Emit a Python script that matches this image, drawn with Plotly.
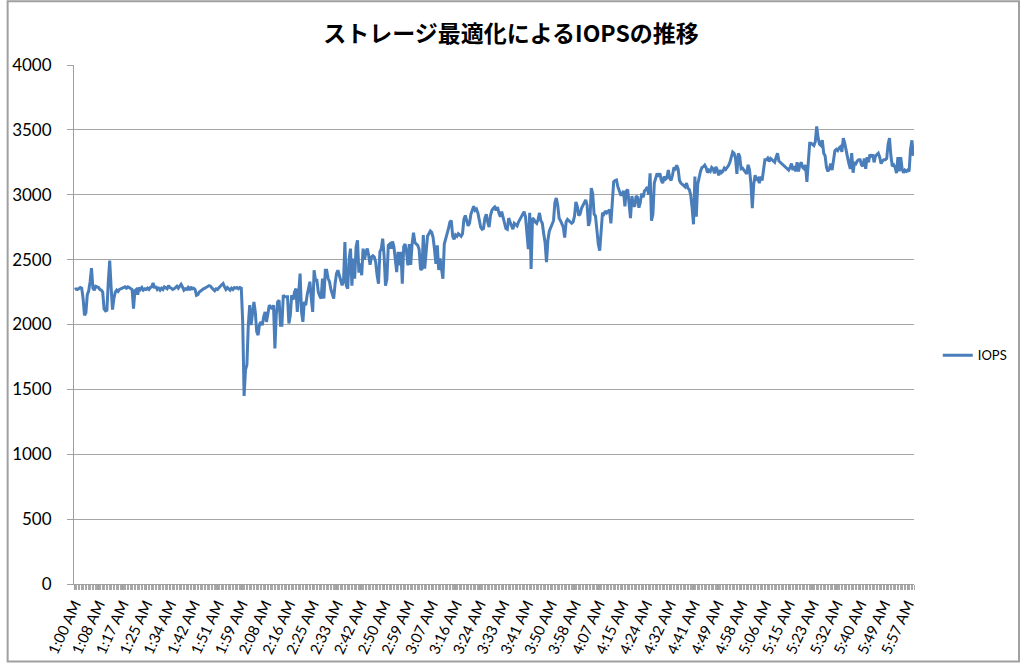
import plotly.graph_objects as go

# IOPS samples every 30 seconds, one list per hour (1:00 AM .. 5:59:30 AM)
iops_1am = [
    2270, 2275, 2270, 2280, 2285, 2280, 2200, 2071, 2090, 2230,
    2260, 2330, 2434, 2280, 2265, 2295, 2290, 2285, 2270, 2265,
    2250, 2120, 2105, 2110, 2330, 2492, 2290, 2115, 2200, 2250,
    2265, 2255, 2270, 2275, 2280, 2285, 2290, 2280, 2290, 2285,
    2280, 2270, 2122, 2260, 2270, 2230, 2285, 2270, 2285, 2265,
    2275, 2270, 2280, 2270, 2285, 2290, 2320, 2280, 2295, 2270,
    2280, 2265, 2280, 2270, 2290, 2285, 2275, 2300, 2285, 2280,
    2270, 2275, 2285, 2295, 2280, 2300, 2310, 2290, 2265, 2275,
    2270, 2285, 2265, 2290, 2275, 2280, 2270, 2225, 2230, 2250,
    2260, 2265, 2275, 2280, 2285, 2290, 2300, 2295, 2280, 2270,
    2260, 2275, 2270, 2285, 2295, 2305, 2315, 2290, 2270, 2285,
    2275, 2265, 2280, 2270, 2285, 2280, 2285, 2275, 2285, 2280,
]
iops_2am = [
    2020, 1450, 1650, 1690, 1995, 2149, 1995, 2097, 2174, 2097,
    1944, 1918, 2000, 2020, 1995, 2060, 2097, 2020, 2100, 2149,
    2136, 2120, 2149, 1815, 2080, 2174, 2187, 1995, 1995, 2226,
    2213, 2213, 2213, 2008, 2070, 2226, 2190, 2250, 2277, 2097,
    2226, 2392, 2100, 2020, 2174, 2149, 2226, 2277, 2330, 2200,
    2097, 2418, 2340, 2341, 2251, 2220, 2200, 2354, 2200, 2418,
    2418, 2354, 2330, 2270, 2240, 2200, 2315, 2392, 2418, 2380,
    2330, 2302, 2330, 2636, 2300, 2277, 2500, 2585, 2300, 2508,
    2354, 2600, 2649, 2400, 2470, 2380, 2585, 2500, 2560, 2585,
    2530, 2460, 2520, 2530, 2520, 2480, 2380, 2315, 2560, 2585,
    2662, 2530, 2300, 2350, 2610, 2620, 2585, 2640, 2600, 2470,
    2404, 2560, 2455, 2560, 2315, 2600, 2620, 2560, 2455, 2620,
]
iops_3am = [
    2460, 2620, 2708, 2632, 2620, 2610, 2580, 2430, 2420, 2690,
    2430, 2565, 2680, 2700, 2721, 2710, 2670, 2580, 2467, 2610,
    2420, 2510, 2420, 2353, 2620, 2657, 2695, 2740, 2790, 2800,
    2680, 2657, 2690, 2680, 2700, 2690, 2680, 2700, 2810, 2840,
    2800, 2760, 2780, 2850, 2880, 2911, 2880, 2890, 2860, 2800,
    2750, 2734, 2740, 2820, 2850, 2790, 2750, 2840, 2880, 2895,
    2905, 2880, 2905, 2860, 2830, 2870, 2830, 2790, 2740, 2734,
    2820, 2790, 2760, 2734, 2780, 2770, 2760, 2790, 2810, 2835,
    2860, 2870, 2830, 2700, 2581, 2860, 2429, 2820, 2810, 2790,
    2780, 2810, 2860, 2800, 2780, 2700, 2630, 2480, 2650, 2720,
    2750, 2765, 2800, 2940, 2975, 2920, 2820, 2800, 2780, 2750,
    2670, 2790, 2810, 2800, 2790, 2780, 2790, 2835, 2945, 2910,
]
iops_4am = [
    2840, 2850, 2895, 2920, 2949, 2960, 2920, 2760, 2800, 3051,
    3010, 2850, 2835, 2720, 2620, 2569, 2700, 2860, 2850, 2875,
    2860, 2870, 2885, 2780, 2950, 3100, 3110, 3114, 3060, 3030,
    3000, 3000, 3030, 2910, 3030, 3040, 2930, 2820, 2990, 2920,
    2910, 2990, 2980, 2900, 2940, 3010, 2980, 3030, 3040, 3060,
    3000, 3165, 2800, 2850, 3090, 3140, 3165, 3140, 3165, 3110,
    3090, 3140, 3120, 3130, 3190, 3130, 3110, 3150, 3210, 3200,
    3228, 3200, 3110, 3090, 3080, 3070, 3060, 3090, 3050, 3040,
    3000, 2900, 2772, 3140, 2830, 3080, 3140, 3180, 3210, 3215,
    3228, 3210, 3170, 3190, 3180, 3210, 3200, 3165, 3215, 3190,
    3150, 3190, 3170, 3180, 3205, 3195, 3210, 3225, 3250, 3300,
    3330, 3320, 3280, 3160, 3320, 3295, 3200, 3205, 3190, 3170,
]
iops_5am = [
    3160, 3231, 3192, 3090, 2897, 3080, 3150, 3120, 3127, 3090,
    3140, 3110, 3200, 3269, 3269, 3282, 3256, 3280, 3270, 3260,
    3250, 3290, 3320, 3260, 3250, 3240, 3230, 3220, 3210, 3205,
    3190, 3210, 3240, 3190, 3220, 3180, 3250, 3180, 3230, 3250,
    3210, 3200, 3230, 3100, 3250, 3397, 3397, 3390, 3380, 3410,
    3526, 3440, 3390, 3380, 3420, 3320, 3300, 3210, 3180, 3200,
    3240, 3190, 3280, 3340, 3350, 3340, 3360, 3370, 3330, 3436,
    3400, 3330, 3290, 3240, 3200, 3320, 3170, 3250, 3240, 3260,
    3270, 3270, 3230, 3220, 3280, 3200, 3290, 3250, 3310, 3290,
    3310, 3250, 3300, 3310, 3320, 3290, 3240, 3260, 3270, 3270,
    3280, 3390, 3436, 3300, 3220, 3230, 3210, 3167, 3290, 3180,
    3290, 3200, 3170, 3190, 3180, 3190, 3180, 3350, 3420, 3300,
]

time_labels = [
    "1:00 AM", "1:08 AM", "1:17 AM", "1:25 AM", "1:34 AM", "1:42 AM",
    "1:51 AM", "1:59 AM", "2:08 AM", "2:16 AM", "2:25 AM", "2:33 AM",
    "2:42 AM", "2:50 AM", "2:59 AM", "3:07 AM", "3:16 AM", "3:24 AM",
    "3:33 AM", "3:41 AM", "3:50 AM", "3:58 AM", "4:07 AM", "4:15 AM",
    "4:24 AM", "4:32 AM", "4:41 AM", "4:49 AM", "4:58 AM", "5:06 AM",
    "5:15 AM", "5:23 AM", "5:32 AM", "5:40 AM", "5:49 AM", "5:57 AM",
]
label_every = 17  # samples between labels

iops = iops_1am + iops_2am + iops_3am + iops_4am + iops_5am
idx = list(range(len(iops)))
tickvals = [i * label_every for i in range(len(time_labels))]

W, H = 1024, 669
L, R, T, B = 68, 916, 65, 587
pw, ph = R - L, B - T

axis_font = dict(family="Lato, 'Noto Sans', sans-serif", size=15, color="#000000")
grid = "#a6a6a6"

fig = go.Figure()
fig.add_trace(go.Scatter(
    x=idx, y=iops, mode="lines", name="IOPS",
    line=dict(color="#4A7EBB", width=3),
))

fig.update_layout(
    width=W, height=H, autosize=False,
    margin=dict(l=L, r=W - R, t=T, b=H - B, pad=0),
    paper_bgcolor="white", plot_bgcolor="white",
    title=dict(
        text="ストレージ最適化によるIOPSの推移",
        font=dict(family="'Noto Sans CJK JP', sans-serif", size=23, color="#000000", weight="bold"),
        x=511 / W, xref="container", xanchor="center",
        y=1 - 34 / H, yref="container", yanchor="middle",
    ),
    showlegend=True,
    legend=dict(
        x=(940 - L) / pw, y=(B - 357) / ph, xanchor="left", yanchor="middle",
        font=dict(family="Lato, 'Noto Sans', sans-serif", size=13, color="#000000"),
        bgcolor="rgba(0,0,0,0)",
    ),
    xaxis=dict(
        range=[-0.5, len(iops) - 0.5],
        tickmode="array", tickvals=tickvals, ticktext=time_labels,
        tickangle=-65, tickfont=axis_font,
        ticks="outside", ticklen=5, tickcolor="#a0a0a0", tickwidth=1,
        showline=True, linecolor="#a0a0a0", linewidth=1,
        showgrid=False, zeroline=False,
        minor=dict(tickmode="linear", tick0=-0.5, dtick=1, ticks="outside",
                   ticklen=5, tickcolor="#a8a8a8", tickwidth=1, showgrid=False),
    ),
    yaxis=dict(
        range=[0, 4000], tickmode="linear", tick0=0, dtick=500,
        tickfont=dict(family="Lato, 'Noto Sans', sans-serif", size=17, color="#000000"),
        ticks="outside", ticklen=6, tickcolor="#a0a0a0",
        ticklabelstandoff=12,
        showline=True, linecolor="#a0a0a0", linewidth=1,
        showgrid=True, gridcolor=grid, gridwidth=1, zeroline=False,
    ),
)

# outer chart border
fig.add_shape(
    type="rect", xref="paper", yref="paper",
    x0=(1 - L) / pw, x1=(1022 - L) / pw,
    y0=(B - 665) / ph, y1=(B - 1) / ph,
    line=dict(color="#a0a0a0", width=2), fillcolor="rgba(0,0,0,0)", layer="below",
)

fig.write_html("out.html")
